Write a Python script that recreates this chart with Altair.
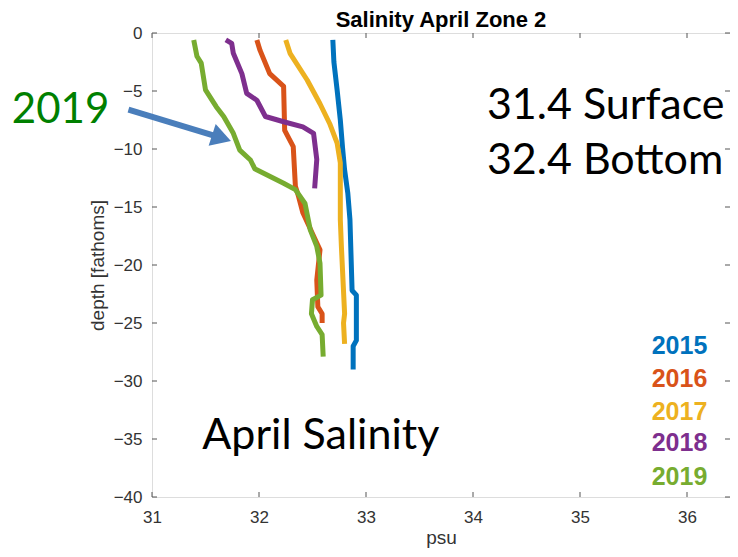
import altair as alt
import pandas as pd

# ---- data ----
x_2015 = [32.69, 32.70, 32.73, 32.76, 32.78, 32.80, 32.83, 32.85, 32.87, 32.91, 32.91, 32.88, 32.88]
y_2015 = [-0.6, -2.5, -4.9, -7.5, -9.8, -11.8, -13.8, -16.1, -22.2, -22.6, -26.5, -27.0, -29.0]

x_2016 = [31.98, 32.01, 32.10, 32.23, 32.24, 32.32, 32.34, 32.37, 32.41, 32.54, 32.57, 32.54, 32.55, 32.59, 32.59]
y_2016 = [-0.6, -1.5, -3.5, -4.6, -8.4, -9.8, -13.2, -14.1, -15.5, -18.1, -18.7, -21.3, -23.6, -24.2, -25.0]

x_2017 = [32.25, 32.29, 32.45, 32.57, 32.66, 32.73, 32.76, 32.76, 32.77, 32.80, 32.79, 32.80]
y_2017 = [-0.6, -1.75, -4.05, -6.1, -7.8, -9.5, -11.2, -16.1, -18.4, -24.2, -25.0, -26.8]

x_2018 = [31.69, 31.745, 31.76, 31.84, 31.885, 31.98, 32.06, 32.23, 32.41, 32.51, 32.54, 32.52]
y_2018 = [-0.6, -0.9, -1.75, -3.5, -5.2, -5.8, -7.2, -7.65, -8.1, -8.65, -10.9, -13.4]

x_2019 = [31.39, 31.42, 31.46, 31.50, 31.60, 31.67, 31.76, 31.82, 31.92, 31.96, 32.23, 32.34,
          32.43, 32.48, 32.54, 32.57, 32.58, 32.50, 32.49, 32.54, 32.59, 32.60]
y_2019 = [-0.6, -2.0, -2.6, -4.9, -6.35, -7.2, -8.65, -10.1, -10.95, -11.7, -12.95, -13.5,
          -14.7, -17.0, -18.4, -19.85, -22.6, -23.0, -24.2, -25.3, -26.0, -27.9]

years = ["2015", "2016", "2017", "2018", "2019"]
colors = ["#0072BD", "#D95319", "#EDB120", "#7E2F8E", "#77AC30"]
legend_x = [35.67] * 5
legend_y = [-26.98, -29.83, -32.67, -35.34, -38.28]

x_ticks = [31, 32, 33, 34, 35, 36]
y_ticks = [-40, -35, -30, -25, -20, -15, -10, -5, 0]

ann_text = ["31.4 Surface", "32.4 Bottom", "April Salinity"]
ann_x = [34.13, 34.13, 31.47]
ann_y = [-6.3, -11.0, -34.7]

label_2019 = ["2019"]
label_2019_x = [29.69]
label_2019_y = [-6.6]

arrow_x, arrow_y = [30.78], [-6.6]
arrow_x2, arrow_y2 = [31.58], [-8.85]
head_x, head_y = [31.65], [-9.05]

PX_PER_UNIT = 107
W, H = 578, 464
X_MIN = 31
X_MAX = X_MIN + W / PX_PER_UNIT
Y_MIN, Y_MAX = -40, 0
FONT = "Liberation Sans"

rows = []
for yr, xs_, ys_ in zip(years, [x_2015, x_2016, x_2017, x_2018, x_2019],
                        [y_2015, y_2016, y_2017, y_2018, y_2019]):
    for i, (a, b) in enumerate(zip(xs_, ys_)):
        rows.append({"year": yr, "psu": a, "depth": b, "order": i})
df = pd.DataFrame(rows)

xs = alt.Scale(domain=[X_MIN, X_MAX], nice=False, zero=False)
ys = alt.Scale(domain=[Y_MIN, Y_MAX], nice=False, zero=False)
cscale = alt.Scale(domain=years, range=colors)

lines = alt.Chart(df).mark_line(strokeWidth=5, strokeJoin="round", strokeCap="butt").encode(
    x=alt.X("psu:Q", scale=xs,
            axis=alt.Axis(values=x_ticks, format="d", title="psu", ticks=False, grid=False, domain=False,
                          labelFlush=False, labelFontSize=17, labelColor="#333333", labelFont=FONT,
                          labelPadding=12, titleFontSize=19, titleFont=FONT,
                          titleFontWeight="normal", titleColor="#333333", titlePadding=3)),
    y=alt.Y("depth:Q", scale=ys,
            axis=alt.Axis(values=y_ticks, format="d", title="depth [fathoms]", ticks=False, grid=False,
                          domain=False, labelFlush=False,
                          labelFontSize=17, labelColor="#333333", labelFont=FONT,
                          labelPadding=10, titleFontSize=19, titleFont=FONT,
                          titleFontWeight="normal", titleColor="#333333", titlePadding=6)),
    color=alt.Color("year:N", scale=cscale, legend=None),
    detail="year:N",
    order="order:Q",
)

# inward tick marks (MATLAB style)
tlx = 5 * (X_MAX - X_MIN) / W
tly = 5 * (Y_MAX - Y_MIN) / H
tick_rows = []
for t in x_ticks:
    tick_rows.append({"x": t, "x2": t, "y": Y_MIN, "y2": Y_MIN + tly})
    tick_rows.append({"x": t, "x2": t, "y": Y_MAX, "y2": Y_MAX - tly})
for t in y_ticks:
    tick_rows.append({"x": X_MIN, "x2": X_MIN + tlx, "y": t, "y2": t})
    tick_rows.append({"x": X_MAX, "x2": X_MAX - tlx, "y": t, "y2": t})
ticks = alt.Chart(pd.DataFrame(tick_rows)).mark_rule(color="#555555", strokeWidth=1).encode(
    x=alt.X("x:Q", scale=xs), x2="x2", y=alt.Y("y:Q", scale=ys), y2="y2")

# year labels
leg = alt.Chart(pd.DataFrame({"year": years, "y": legend_y, "x": legend_x})).mark_text(
    align="left", baseline="middle", fontSize=25, fontWeight="bold", font=FONT
).encode(x=alt.X("x:Q", scale=xs), y=alt.Y("y:Q", scale=ys), text="year:N",
         color=alt.Color("year:N", scale=cscale, legend=None))

# annotations
ann = alt.Chart(pd.DataFrame({"t": ann_text, "x": ann_x, "y": ann_y})).mark_text(
    align="left", baseline="middle", fontSize=43, font="Lato", color="black"
).encode(x=alt.X("x:Q", scale=xs), y=alt.Y("y:Q", scale=ys), text="t:N")

green_lbl = alt.Chart(pd.DataFrame({"t": label_2019, "x": label_2019_x, "y": label_2019_y})).mark_text(
    align="left", baseline="middle", fontSize=42, font="Lato", color="#008000"
).encode(x=alt.X("x:Q", scale=xs), y=alt.Y("y:Q", scale=ys), text="t:N")

shaft = alt.Chart(pd.DataFrame({"x": arrow_x, "y": arrow_y, "x2": arrow_x2, "y2": arrow_y2})).mark_rule(
    color="#4A7EBB", strokeWidth=6).encode(
    x=alt.X("x:Q", scale=xs), y=alt.Y("y:Q", scale=ys), x2="x2", y2="y2")
head = alt.Chart(pd.DataFrame({"x": head_x, "y": head_y})).mark_point(
    shape="triangle-right", filled=True, size=520, angle=18, color="#4A7EBB", opacity=1).encode(
    x=alt.X("x:Q", scale=xs), y=alt.Y("y:Q", scale=ys))

chart = alt.layer(ticks, lines, leg, ann, green_lbl, shaft, head).properties(
    width=W, height=H,
    title=alt.TitleParams("Salinity April Zone 2", fontSize=22, fontWeight="bold",
                          font=FONT, color="black", anchor="middle", frame="group",
                          offset=3, dy=11),
    autosize=alt.AutoSizeParams(type="none"),
    padding={"left": 144, "top": 25, "right": 0, "bottom": 52},
).configure_view(stroke="#7a7a7a", strokeWidth=1.2).configure(background="white")

chart.save("out.html", embed_options={"renderer": "svg", "actions": False})
